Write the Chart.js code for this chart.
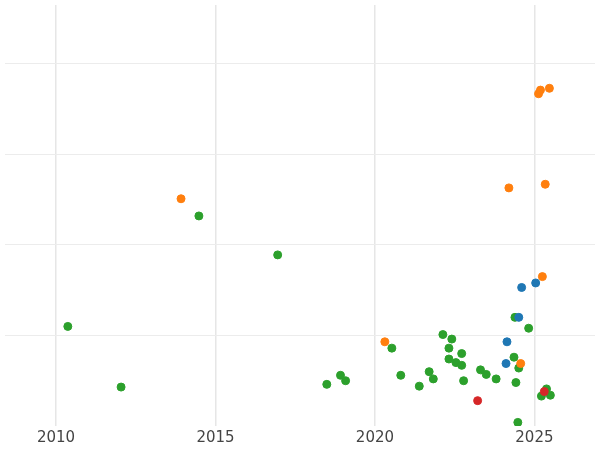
<!DOCTYPE html>
<html><head><meta charset="utf-8">
<script src="https://cdn.jsdelivr.net/npm/chart.js@4/dist/chart.umd.min.js"></script>
<style>html,body{margin:0;padding:0;background:#fff}#wrap{width:600px;height:450px}</style>
</head><body><div id="wrap"><canvas id="canvas"></canvas></div>
<script>
// values
var greenX = [2010.37,2012.04,2014.48,2016.95,2018.49,2018.92,2019.08,2020.53,2020.81,2021.39,2021.70,2021.83,2022.13,2022.41,2022.32,2022.32,2022.54,2022.72,2022.72,2022.78,2023.31,2023.49,2023.80,2024.39,2024.36,2024.51,2024.42,2024.82,2024.48,2025.22,2025.38,2025.50];
var greenY = [1.10,0.43,2.32,1.89,0.46,0.56,0.50,0.86,0.56,0.44,0.60,0.52,1.01,0.96,0.86,0.74,0.70,0.80,0.67,0.50,0.62,0.57,0.52,1.20,0.76,0.64,0.48,1.08,0.04,0.33,0.41,0.34];
var orangeX = [2013.92,2020.31,2024.20,2025.13,2025.19,2025.47,2025.34,2025.25,2024.57];
var orangeY = [2.51,0.93,2.63,3.67,3.71,3.73,2.67,1.65,0.69];
var blueX = [2024.60,2025.04,2024.51,2024.14,2024.11];
var blueY = [1.53,1.58,1.20,0.93,0.69];
var redX = [2023.22,2025.31];
var redY = [0.28,0.38];

function pts(xs, ys) {
    return xs.map(function (x, i) { return { x: x, y: ys[i] }; });
}
function set(xs, ys, color, order) {
    return { data: pts(xs, ys), backgroundColor: color, borderColor: color, pointRadius: 4, pointHoverRadius: 4, order: order };
}

var ctx = document.getElementById("canvas").getContext("2d");
var chart = new Chart(ctx, {
    type: 'scatter',
    data: {
        datasets: [
            set(greenX, greenY, "#2ca02c", 4),
            set(orangeX, orangeY, "#ff7f0e", 3),
            set(blueX, blueY, "#1f77b4", 2),
            set(redX, redY, "#d62728", 1)
        ]
    },
    options: {
        responsive: true,
        maintainAspectRatio: false,
        animation: false,
        layout: { padding: { left: -5, right: -5, top: -5, bottom: 0 } },
        plugins: { legend: { display: false }, tooltip: { enabled: false } },
        scales: {
            x: {
                min: 2008.4, max: 2026.9,
                afterBuildTicks: function (s) { s.ticks = [2010, 2015, 2020, 2025].map(function (v) { return { value: v }; }); },
                ticks: { color: "#444", font: { size: 15, family: "DejaVu Sans" }, callback: function (v) { return String(v); } },
                grid: { color: "#e6e6e6", lineWidth: 1.5, drawTicks: false },
                border: { display: false }
            },
            y: {
                min: 0, max: 4.65,
                afterBuildTicks: function (s) { s.ticks = [1, 2, 3, 4].map(function (v) { return { value: v }; }); },
                ticks: { display: false },
                grid: { color: "#ececec", drawTicks: false },
                border: { display: false }
            }
        }
    }
});
</script></body></html>
